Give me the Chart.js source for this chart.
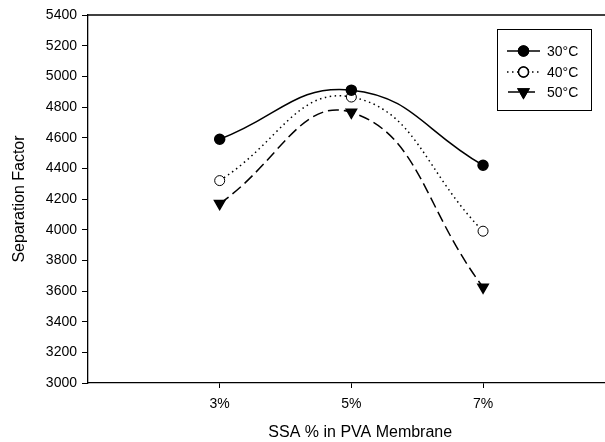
<!DOCTYPE html>
<html>
<head>
<meta charset="utf-8">
<script src="https://cdn.jsdelivr.net/npm/chart.js@4/dist/chart.umd.min.js"></script>
<style>
  html, body { margin: 0; padding: 0; background: #fff; overflow: hidden; }
  #wrap { width: 605px; height: 442px; overflow: hidden; }
</style>
</head>
<body>
<div id="wrap"><canvas id="sepChart" width="640" height="442"></canvas></div>
<script>
// SSA loading (%) and tick labels
const ssaLevels = [3, 5, 7];
const tickLabels = ["3%", "5%", "7%"];

// separation factor at each temperature
const temp30 = [4590, 4910, 4420];
const temp40 = [4320, 4865, 3990];
const temp50 = [4170, 4765, 3625];

const seriesNames = ["30\u00B0C", "40\u00B0C", "50\u00B0C"];

const yTicks = [3000, 3200, 3400, 3600, 3800, 4000, 4200, 4400, 4600, 4800, 5000, 5200, 5400];

const toPoints = (vals) => vals.map((v, i) => ({ x: ssaLevels[i], y: v }));

// legend + top frame line drawn on the canvas
const frameLegend = {
    id: "frameLegend",
    afterDatasetsDraw(chart) {
        const ctx = chart.ctx;
        const area = chart.chartArea;
        ctx.save();
        ctx.strokeStyle = "#000";
        ctx.lineWidth = 1.3;
        ctx.beginPath();
        ctx.moveTo(area.left, area.top);
        ctx.lineTo(area.right, area.top);
        ctx.stroke();

        // legend box
        ctx.lineWidth = 1;
        ctx.strokeRect(497.5, 29.5, 94, 81);
        const rows = [51, 72, 92];
        chart.data.datasets.forEach((ds, i) => {
            const y = rows[i];
            ctx.setLineDash(ds.borderDash || []);
            ctx.lineDashOffset = ds.legendDashOffset || 0;
            ctx.lineWidth = ds.borderWidth;
            ctx.beginPath();
            ctx.moveTo(507, y);
            ctx.lineTo(540, y);
            ctx.stroke();
            ctx.setLineDash([]);
            Chart.helpers.drawPoint(ctx, {
                pointStyle: ds.pointStyle,
                rotation: ds.pointRotation || 0,
                radius: ds.pointRadius,
                borderWidth: 1
            }, 523.5, y);
            ctx.fillStyle = ds.pointBackgroundColor;
            ctx.strokeStyle = "#000";
            ctx.fill();
            ctx.stroke();
            ctx.fillStyle = "#000";
            ctx.font = "14px 'Liberation Sans', Arial, sans-serif";
            ctx.textBaseline = "middle";
            ctx.textAlign = "left";
            ctx.fillText(ds.label, 547, y + 1);
        });
        ctx.restore();
    }
};

const sepChart = document.getElementById("sepChart").getContext("2d");
new Chart(sepChart, {
    type: "line",
    data: {
        datasets: [
            {
                label: seriesNames[0],
                data: toPoints(temp30),
                borderColor: "#000",
                borderWidth: 1.5,
                pointStyle: "circle",
                pointRadius: 5,
                pointBackgroundColor: "#000",
                pointBorderColor: "#000",
                tension: 0.45,
            },
            {
                label: seriesNames[1],
                data: toPoints(temp40),
                borderColor: "#000",
                borderWidth: 1.5,
                borderDash: [1.5, 3.5],
                pointStyle: "circle",
                pointRadius: 5,
                pointBackgroundColor: "#fff",
                pointBorderColor: "#000",
                pointBorderWidth: 1,
                tension: 0.45,
            },
            {
                label: seriesNames[2],
                data: toPoints(temp50),
                borderColor: "#000",
                borderWidth: 1.5,
                borderDash: [11, 5],
                legendDashOffset: -1,
                pointStyle: "triangle",
                pointRotation: 180,
                pointRadius: 6,
                pointBackgroundColor: "#000",
                pointBorderColor: "#000",
                tension: 0.45,
            },
        ],
    },
    options: {
        responsive: false,
        animation: false,
        layout: { padding: { top: 15, right: 2, left: 0, bottom: 0 } },
        plugins: {
            legend: { display: false },
            tooltip: { enabled: false },
        },
        scales: {
            x: {
                type: "linear",
                min: 1,
                max: 9.27,
                afterBuildTicks: (scale) => {
                    scale.ticks = ssaLevels.map((v) => ({ value: v }));
                },
                afterFit: (scale) => { scale.height = 59; },
                ticks: {
                    color: "#000",
                    font: { family: "'Liberation Sans', Arial, sans-serif", size: 14 },
                    padding: 8,
                    maxRotation: 0,
                    callback: (v) => tickLabels[ssaLevels.indexOf(v)],
                },
                grid: { drawOnChartArea: false, drawTicks: true, tickLength: 5, color: "#000", lineWidth: 1 },
                border: { color: "#000", width: 1.3 },
                title: {
                    display: true,
                    text: "SSA % in PVA Membrane",
                    color: "#000",
                    font: { family: "'Liberation Sans', Arial, sans-serif", size: 16 },
                    padding: { top: 0, bottom: 0 },
                },
            },
            y: {
                min: 3000,
                max: 5400,
                afterBuildTicks: (scale) => {
                    scale.ticks = yTicks.map((v) => ({ value: v }));
                },
                afterFit: (scale) => { scale.width = 88; },
                ticks: {
                    color: "#000",
                    font: { family: "'Liberation Sans', Arial, sans-serif", size: 14 },
                    padding: 5,
                    callback: (v) => String(v),
                },
                grid: { drawOnChartArea: false, drawTicks: true, tickLength: 6, color: "#000", lineWidth: 1 },
                border: { color: "#000", width: 1.3 },
                title: {
                    display: true,
                    text: "Separation Factor",
                    color: "#000",
                    font: { family: "'Liberation Sans', Arial, sans-serif", size: 16 },
                    padding: { top: 10, bottom: 0 },
                },
            },
        },
    },
    plugins: [frameLegend],
});
</script>
</body>
</html>
